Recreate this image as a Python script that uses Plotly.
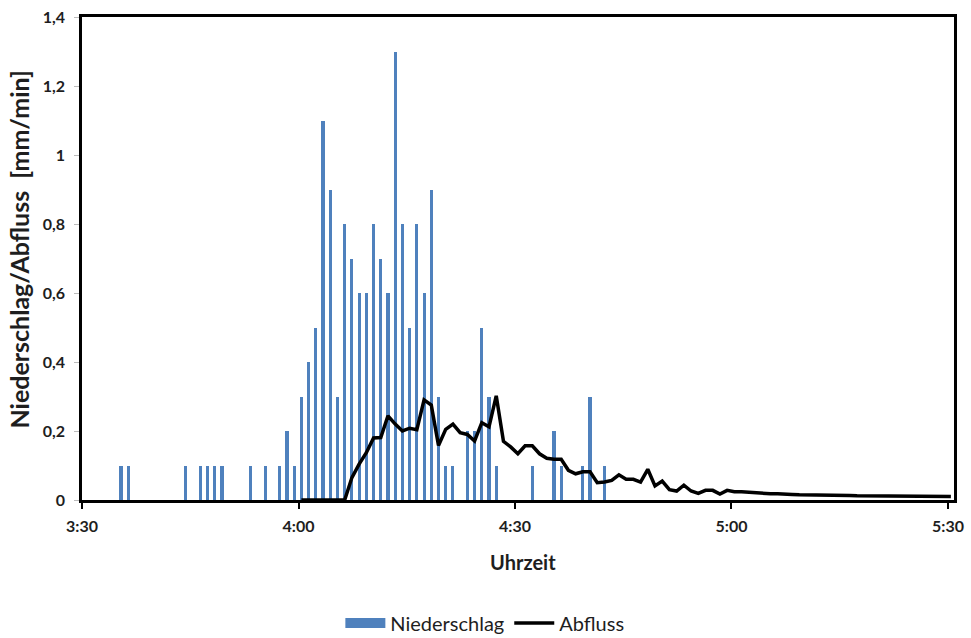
import datetime as dt
import plotly.graph_objects as go

# ---------------- data ----------------
rain_times = ["3:35", "3:36", "3:44", "3:46", "3:47", "3:48", "3:49", "3:53", "3:55", "3:57",
              "3:58", "3:59", "4:00", "4:01", "4:02", "4:03", "4:04", "4:05", "4:06", "4:07",
              "4:08", "4:09", "4:10", "4:11", "4:12", "4:13", "4:14", "4:15", "4:16", "4:17",
              "4:18", "4:19", "4:20", "4:21", "4:23", "4:24", "4:25", "4:26", "4:27", "4:32",
              "4:35", "4:36", "4:39", "4:40", "4:42"]
rain_values = [0.1, 0.1, 0.1, 0.1, 0.1, 0.1, 0.1, 0.1, 0.1, 0.1,
               0.2, 0.1, 0.3, 0.4, 0.5, 1.1, 0.9, 0.3, 0.8, 0.7,
               0.6, 0.6, 0.8, 0.7, 0.6, 1.3, 0.8, 0.5, 0.8, 0.6,
               0.9, 0.3, 0.1, 0.1, 0.2, 0.2, 0.5, 0.3, 0.1, 0.1,
               0.2, 0.1, 0.1, 0.3, 0.1]

# runoff: minutes after 4:00
flow_minutes = list(range(0, 91))
flow_values = [0, 0, 0, 0, 0, 0, 0, 0.065, 0.104, 0.137,
               0.18, 0.181, 0.244, 0.22, 0.2, 0.208, 0.204, 0.29, 0.275, 0.158,
               0.205, 0.22, 0.195, 0.19, 0.171, 0.224, 0.212, 0.302, 0.17, 0.154,
               0.134, 0.157, 0.157, 0.134, 0.121, 0.118, 0.118, 0.086, 0.076, 0.082,
               0.082, 0.05, 0.052, 0.057, 0.073, 0.06, 0.06, 0.052, 0.089, 0.041,
               0.055, 0.03, 0.026, 0.043, 0.026, 0.019, 0.028, 0.028, 0.017, 0.028,
               0.024, 0.024, 0.022, 0.021, 0.019, 0.018, 0.018, 0.018, 0.016, 0.015,
               0.015, 0.015, 0.014, 0.014, 0.013, 0.013, 0.013, 0.012, 0.012, 0.012,
               0.012, 0.011, 0.011, 0.011, 0.011, 0.01, 0.01, 0.01, 0.01, 0.01,
               0.01]

x_tick_labels = ["3:30", "4:00", "4:30", "5:00", "5:30"]
y_tick_values = [0, 0.2, 0.4, 0.6, 0.8, 1.0, 1.2, 1.4]

# ---------------- build ----------------
day = dt.datetime(2000, 1, 1)
sample_shift = dt.timedelta(seconds=24)  # measured sample offset within each minute


def to_dt(label):
    h, m = label.split(":")
    return day + dt.timedelta(hours=int(h), minutes=int(m))


rain_x = [to_dt(t) + sample_shift for t in rain_times]
flow_x = [to_dt("4:00") + dt.timedelta(minutes=m) + sample_shift for m in flow_minutes]
tick_x = [to_dt(t) for t in x_tick_labels]

FONT = "Lato, 'Open Sans', sans-serif"
TXT = "#1e1e1e"
BLUE = "#4F81BD"

fig = go.Figure()
fig.add_trace(go.Bar(
    x=rain_x, y=rain_values, name="Niederschlag",
    marker=dict(color=BLUE, line=dict(width=0)),
    width=26000, showlegend=False,
))
# legend entry drawn as a wide block, like the original
fig.add_trace(go.Scatter(
    x=[None], y=[None], name="Niederschlag", mode="lines",
    line=dict(color=BLUE, width=13),
))
fig.add_trace(go.Scatter(
    x=flow_x, y=flow_values, name="Abfluss", mode="lines",
    line=dict(color="black", width=3.5),
))

fig.update_layout(
    width=971, height=654,
    margin=dict(l=82, r=17, t=17, b=142),
    paper_bgcolor="white", plot_bgcolor="white",
    separators=", ",
    font=dict(family=FONT, color=TXT),
    showlegend=True,
    legend=dict(orientation="h", x=0.462, xanchor="center", y=-0.2545, yanchor="middle",
                font=dict(size=20, family=FONT, color=TXT), traceorder="normal",
                itemwidth=40, tracegroupgap=0),
    bargap=0,
    annotations=[
        dict(text="<b>Niederschlag/Abfluss  [mm/min]</b>", xref="paper", yref="paper",
             x=-0.072, y=0.519, xanchor="center", yanchor="middle", textangle=-90,
             showarrow=False, font=dict(size=25, family=FONT, color=TXT)),
        dict(text="<b>Uhrzeit</b>", xref="paper", yref="paper",
             x=0.506, y=-0.129, xanchor="center", yanchor="middle",
             showarrow=False, font=dict(size=20, family=FONT, color=TXT)),
    ],
)
fig.update_xaxes(
    type="date", automargin=False,
    range=[to_dt("3:30"), to_dt("5:30") + dt.timedelta(seconds=50)],
    tickvals=tick_x, ticktext=x_tick_labels,
    ticks="outside", ticklen=6, tickwidth=2, tickcolor="black",
    showline=True, linecolor="black", linewidth=2.5, mirror=True,
    showgrid=False, zeroline=False,
    ticklabelstandoff=4, ticklabeloverflow="allow",
    tickfont=dict(size=16, family=FONT, color=TXT, weight="bold"),
)
fig.update_yaxes(
    range=[0, 1.4], automargin=False,
    tickvals=y_tick_values,
    ticks="outside", ticklen=5, tickwidth=1, tickcolor="#bbbbbb",
    showline=True, linecolor="black", linewidth=2.5, mirror=True,
    showgrid=False, zeroline=False,
    ticklabelstandoff=6, ticklabeloverflow="allow",
    tickfont=dict(size=16, family=FONT, color=TXT, weight="bold"),
)

# remove the default 8px page margin so the figure fills the window exactly
fig.write_html(
    "out.html",
    config={"displayModeBar": False},
    post_script="document.body.style.margin='0';document.body.style.overflow='hidden';",
)
